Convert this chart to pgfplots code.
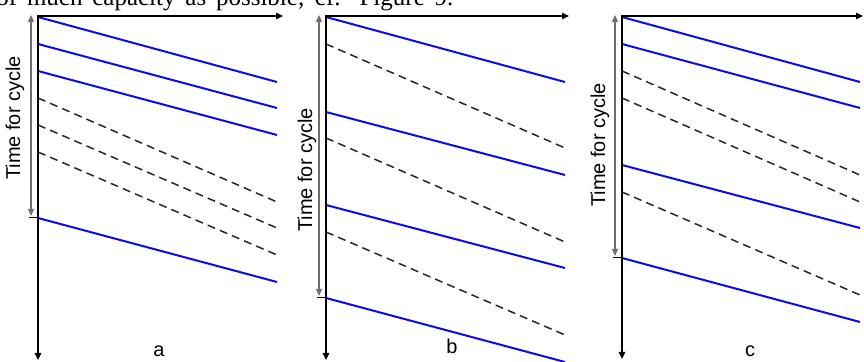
\documentclass[border=0pt]{standalone}
\usepackage{pgfplots}
\pgfplotsset{compat=1.18}
\usepackage{fontspec}
\setmainfont{Liberation Sans}
\newfontfamily\seriffont{Liberation Serif}
\usetikzlibrary{arrows.meta}
\definecolor{lineblue}{RGB}{10,10,245}
\definecolor{dashgray}{RGB}{40,40,40}
\definecolor{cyclegray}{RGB}{110,110,110}
\tikzset{
  blueline/.style={lineblue, line width=1pt},
  dashline/.style={dashgray, line width=0.75pt, dash pattern=on 4pt off 2.6pt},
  axisarrow/.style={black, line width=1pt, line join=miter, {Triangle[length=3.5pt,width=3.2pt]}-{Triangle[length=3.5pt,width=3.2pt]}},
  cyclearrow/.style={cyclegray, line width=0.55pt, {Triangle[length=3.5pt,width=3pt]}-{Triangle[length=3.5pt,width=3pt]}},
  lab/.style={font=\fontsize{10pt}{12pt}\selectfont},
}
\begin{document}
\begin{tikzpicture}
\begin{axis}[
  scale only axis, width=432pt, height=181pt,
  xmin=0, xmax=864, ymin=0, ymax=362, y dir=reverse,
  axis lines=none, clip=false,
]
% top text (a justified line of the surrounding page), cut off by the page edge
\node[anchor=base west, inner sep=0pt, font=\seriffont\fontsize{12.5pt}{14pt}\selectfont] at (axis cs:-4,6) {\makebox[228.5pt][s]{of much capacity as possible, cf. Figure 9.}};

% ---------- panel a ----------
\addplot[blueline] coordinates {(38,17) (277,82)};
\addplot[blueline] coordinates {(38,44) (277,108)};
\addplot[blueline] coordinates {(38,71) (277,135)};
\addplot[dashline] coordinates {(38,98) (277,202)};
\addplot[dashline] coordinates {(38,125) (277,228)};
\addplot[dashline] coordinates {(38,152) (277,255)};
\addplot[blueline] coordinates {(38,218) (277,282)};
\draw[axisarrow] (axis cs:38,360) -- (axis cs:38,16) -- (axis cs:283,16);
\draw[cyclearrow] (axis cs:31,15) -- (axis cs:31,216);
\draw[black, line width=0.75pt] (axis cs:29,217.5) -- (axis cs:38,217.5);
\node[lab, rotate=90] at (axis cs:15,118) {Time for cycle};
\node[lab] at (axis cs:159,351) {a};

% ---------- panel b ----------
\addplot[blueline] coordinates {(326,17) (565,82)};
\addplot[dashline] coordinates {(326,44) (565,148)};
\addplot[blueline] coordinates {(326,112) (565,175)};
\addplot[dashline] coordinates {(326,138) (565,242)};
\addplot[blueline] coordinates {(326,205) (565,268)};
\addplot[dashline] coordinates {(326,232) (565,335)};
\addplot[blueline] coordinates {(326,298) (565,362)};
\draw[axisarrow] (axis cs:326,360) -- (axis cs:326,16) -- (axis cs:569,16);
\draw[cyclearrow] (axis cs:319,15) -- (axis cs:319,296);
\draw[black, line width=0.75pt] (axis cs:317,297.5) -- (axis cs:326,297.5);
\node[lab, rotate=90] at (axis cs:307,170) {Time for cycle};
\node[lab] at (axis cs:452,346) {b};

% ---------- panel c ----------
\addplot[blueline] coordinates {(622,17) (860,82)};
\addplot[blueline] coordinates {(622,44) (860,108)};
\addplot[dashline] coordinates {(622,71) (860,175)};
\addplot[dashline] coordinates {(622,98) (860,202)};
\addplot[blueline] coordinates {(622,165) (860,228)};
\addplot[dashline] coordinates {(622,192) (860,295)};
\addplot[blueline] coordinates {(622,258) (860,322)};
\draw[axisarrow] (axis cs:622,359) -- (axis cs:622,16) -- (axis cs:863,16);
\draw[cyclearrow] (axis cs:615,15) -- (axis cs:615,256);
\draw[black, line width=0.75pt] (axis cs:613,257.5) -- (axis cs:622,257.5);
\node[lab, rotate=90] at (axis cs:600,145) {Time for cycle};
\node[lab] at (axis cs:750,351) {c};
\end{axis}
\pgfresetboundingbox
\path[use as bounding box] (current axis.south west) rectangle (current axis.north east);
\end{tikzpicture}
\end{document}
